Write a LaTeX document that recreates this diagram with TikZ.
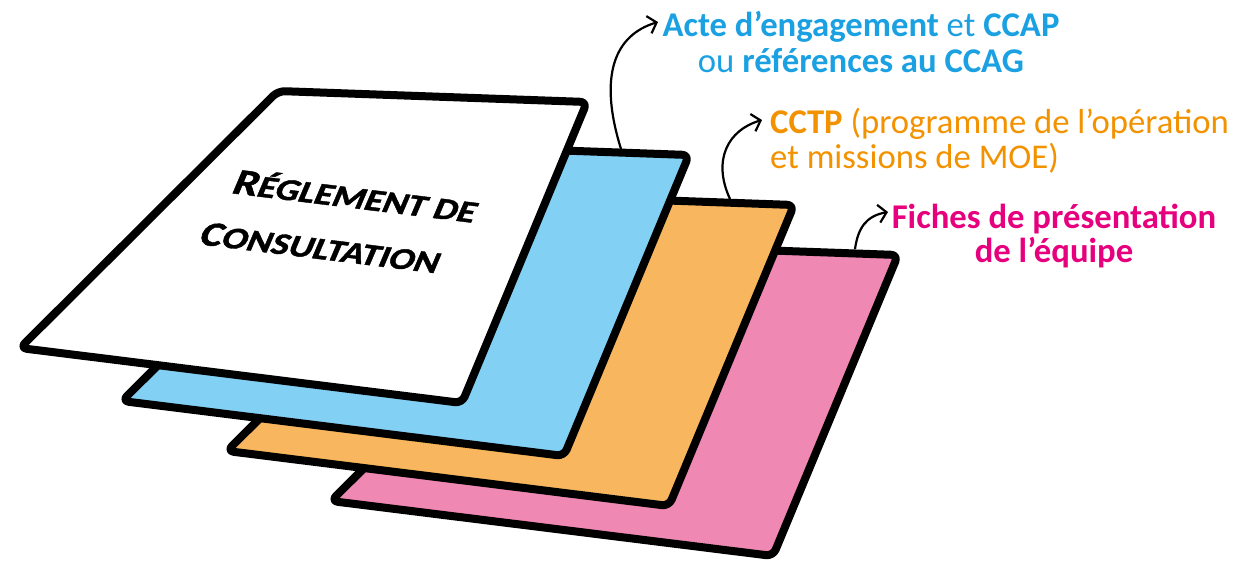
\documentclass[tikz,border=0pt]{standalone}
\usepackage{fontspec}
\setmainfont{Carlito}
\newfontfamily\ttlfont{Carlito}[BoldFeatures={FakeBold=1.2}]
\usetikzlibrary{arrows.meta}
\definecolor{cblue}{HTML}{1BA1E2}
\definecolor{corange}{HTML}{F39200}
\definecolor{cpink}{HTML}{E6007E}
\definecolor{fblue}{HTML}{83D0F5}
\definecolor{forange}{HTML}{F8B65E}
\definecolor{fpink}{HTML}{EF88B3}
\begin{document}
\begin{tikzpicture}[x=1pt,y=-1pt,
  sheet/.style={draw=black,line width=8pt,rounded corners=7pt,line join=round},
  lbl/.style={inner sep=0pt,font=\fontsize{34.7}{34.7}\selectfont},
  ttl/.style={inner sep=0pt,rotate=-7,xscale=1.2,xslant=0.24,font=\ttlfont\bfseries},
  arr/.style={line width=2.2pt,-{Straight Barb[length=8pt,width=18pt,line width=2.2pt]}}]
\useasboundingbox (0,0) rectangle (1241,563);
% sheets (back to front)
\draw[sheet,fill=fpink] (589,244) -- (898,255) -- (773,556) -- (331,501) -- cycle;
\draw[sheet,fill=forange] (485,194) -- (794,205) -- (669,506) -- (227,451) -- cycle;
\draw[sheet,fill=fblue] (380,144) -- (689,155) -- (564,456) -- (122,401) -- cycle;
\draw[sheet,fill=white] (278,91) -- (587,102) -- (462,403) -- (20,348) -- cycle;
% title
\node[ttl,anchor=base west] (t1) at (230,193) {{\fontsize{37}{37}\selectfont R}{\fontsize{31}{31}\selectfont ÉGLEMENT DE}};
\node[ttl,anchor=base west] (t2) at (197,244) {{\fontsize{35}{35}\selectfont C}{\fontsize{31}{31}\selectfont ONSULTATION}};
% labels
\node[lbl,anchor=base,text=cblue] (a1) at (861,36) {\textbf{Acte d’engagement} et \textbf{CCAP}};
\node[lbl,anchor=base,text=cblue] (a2) at (861,72) {ou \textbf{références au CCAG}};
\node[lbl,anchor=base west,text=corange] (b1) at (770,133) {\textbf{CCTP} (programme de l’opération};
\node[lbl,anchor=base west,text=corange] (b2) at (770,168) {et missions de MOE)};
\node[lbl,anchor=base,text=cpink,font=\fontsize{34.7}{34.7}\selectfont\bfseries] (c1) at (1054,228) {Fiches de présentation};
\node[lbl,anchor=base,text=cpink,font=\fontsize{34.7}{34.7}\selectfont\bfseries] (c2) at (1054,262) {de l’équipe};
% arrows
\coordinate (s1) at (621,149);
\coordinate (e1) at (658,22);
\coordinate (s2) at (730,199);
\coordinate (e2) at (762,120);
\coordinate (s3) at (855,249);
\coordinate (e3) at (888,212);
\draw[arr] (s1) .. controls (598,75) and (615,35) .. (e1);
\draw[arr] (s2) .. controls (712,160) and (728,130) .. (e2);
\draw[arr] (s3) .. controls (858,228) and (866,216) .. (e3);
\end{tikzpicture}
\end{document}
